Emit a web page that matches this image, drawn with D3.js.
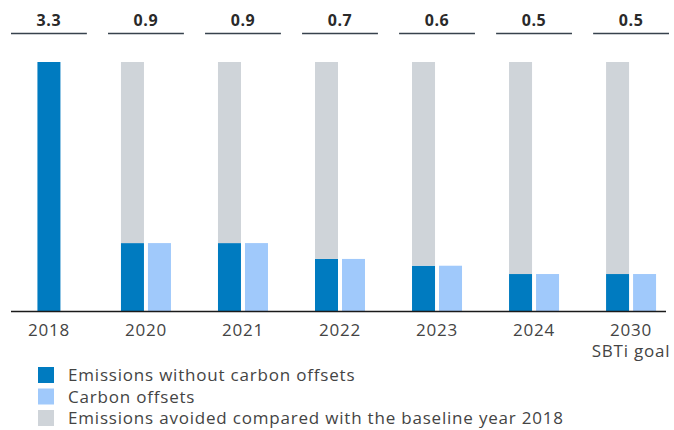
<!DOCTYPE html>
<html>
<head>
<meta charset="utf-8">
<script src="https://cdn.jsdelivr.net/npm/d3@7"></script>
<style>
  html, body { margin: 0; padding: 0; background: #fff; }
  svg { display: block; font-family: "Open Sans", sans-serif; }
</style>
</head>
<body>
<svg id="chart" width="674" height="430"></svg>
<script>
// ---- data ----
const categories = ["2018", "2020", "2021", "2022", "2023", "2024", "2030"];
const categorySubLabels = ["", "", "", "", "", "", "SBTi goal"];
const totalLabels = ["3.3", "0.9", "0.9", "0.7", "0.6", "0.5", "0.5"];
const emissionsWithoutOffsets = [3.3, 0.9, 0.9, 0.69, 0.6, 0.49, 0.49];
const carbonOffsets = [0, 0.9, 0.9, 0.69, 0.6, 0.49, 0.49];
const baselineValue = 3.3;
const avoidedEmissions = emissionsWithoutOffsets.map(v => baselineValue - v);
const legendLabels = [
  "Emissions without carbon offsets",
  "Carbon offsets",
  "Emissions avoided compared with the baseline year 2018"
];
const colors = ["#007bc0", "#a0c9fb", "#cfd4d9"];

// ---- layout ----
const FONT = "'Open Sans', sans-serif";
const FS = 17;
const LS = 0.8;
const svg = d3.select("#chart");
const x = d3.scaleBand().domain(categories).range([11, 669]).paddingInner(0.218).paddingOuter(0);
const y = d3.scaleLinear().domain([0, baselineValue]).range([311, 62]);
const barW = 23, gap = 4;

// top value labels and rules
const topG = svg.append("g");
categories.forEach((c, i) => {
  const x0 = x(c), cx = x0 + x.bandwidth() / 2;
  topG.append("text").attr("x", cx).attr("y", 26).attr("text-anchor", "middle")
    .attr("font-size", 16).attr("font-weight", 700).attr("fill", "#2a2a2a")
    .attr("letter-spacing", 0.6)
    .text(totalLabels[i]);
  topG.append("line").attr("x1", x0).attr("x2", x0 + x.bandwidth())
    .attr("y1", 33.5).attr("y2", 33.5).attr("stroke", "#37424d").attr("stroke-width", 1.3);
});

// bars
const bars = svg.append("g");
categories.forEach((c, i) => {
  const cx = x(c) + x.bandwidth() / 2;
  const hasOffset = carbonOffsets[i] > 0;
  const darkX = hasOffset ? cx - gap / 2 - barW : cx - barW / 2;
  bars.append("rect").attr("x", darkX).attr("width", barW)
    .attr("y", y(emissionsWithoutOffsets[i]))
    .attr("height", y(0) - y(emissionsWithoutOffsets[i]))
    .attr("fill", colors[0]);
  if (avoidedEmissions[i] > 0) {
    bars.append("rect").attr("x", darkX).attr("width", barW)
      .attr("y", y(emissionsWithoutOffsets[i] + avoidedEmissions[i]))
      .attr("height", y(emissionsWithoutOffsets[i]) - y(emissionsWithoutOffsets[i] + avoidedEmissions[i]))
      .attr("fill", colors[2]);
  }
  if (hasOffset) {
    bars.append("rect").attr("x", cx + gap / 2).attr("width", barW)
      .attr("y", y(carbonOffsets[i]))
      .attr("height", y(0) - y(carbonOffsets[i]))
      .attr("fill", colors[1]);
  }
});

// x axis
const xAxis = d3.axisBottom(x).tickSize(0).tickPadding(10);
const ax = svg.append("g").attr("transform", `translate(0, ${y(0)})`).call(xAxis);
ax.select(".domain").attr("d", "M11,0.5H666").attr("stroke", "#1a1a1a").attr("stroke-width", 1.6);
ax.selectAll(".tick text").attr("font-size", FS).attr("fill", "#444")
  .attr("font-family", FONT).attr("letter-spacing", LS)
  .attr("dy", null).attr("y", 25);
ax.selectAll(".tick").each(function(d, i) {
  if (categorySubLabels[i]) {
    d3.select(this).append("text").attr("y", 46).attr("fill", "#444")
      .attr("font-size", FS).attr("text-anchor", "middle")
      .attr("font-family", FONT).attr("letter-spacing", LS)
      .text(categorySubLabels[i]);
  }
});

// legend
const lg = svg.append("g").attr("transform", "translate(38, 367)");
legendLabels.forEach((l, i) => {
  const g = lg.append("g").attr("transform", `translate(0, ${i * 21.5})`);
  g.append("rect").attr("width", 16).attr("height", 16).attr("fill", colors[i]);
  g.append("text").attr("x", 30).attr("y", 14).attr("font-size", FS)
    .attr("letter-spacing", LS).attr("fill", "#444").text(l);
});
</script>
</body>
</html>
